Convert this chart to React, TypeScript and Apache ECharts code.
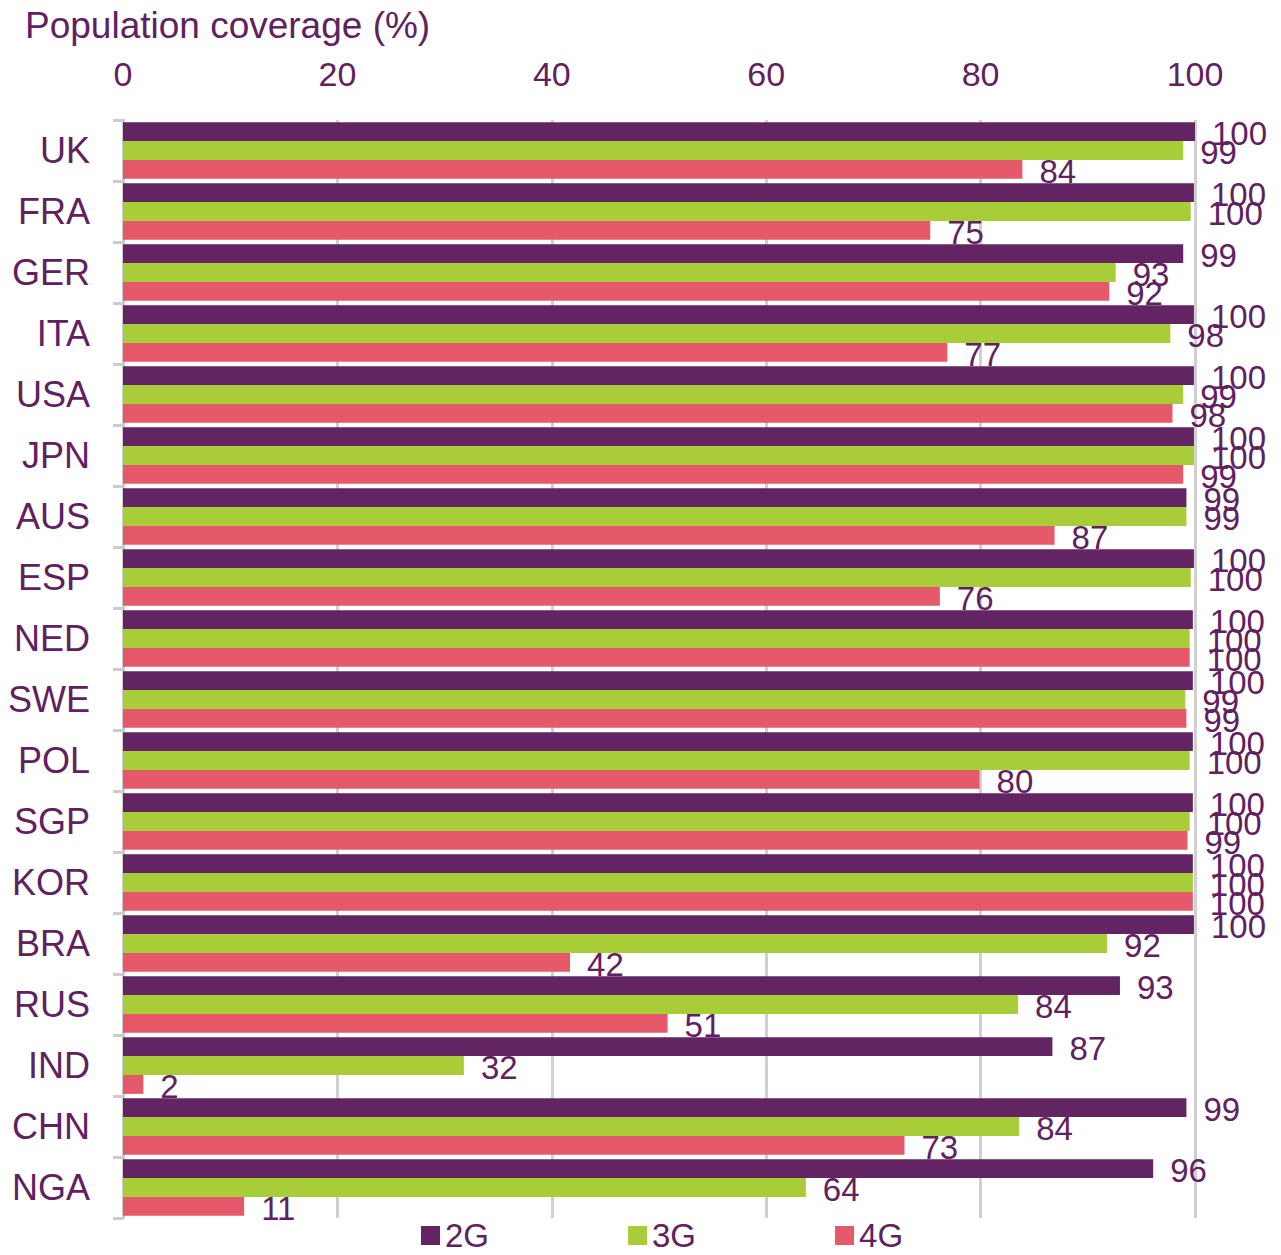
import React, { useEffect, useRef } from "react";
import * as echarts from "echarts";

const categories = ["UK", "FRA", "GER", "ITA", "USA", "JPN", "AUS", "ESP", "NED", "SWE", "POL", "SGP", "KOR", "BRA", "RUS", "IND", "CHN", "NGA"];
const values2G = [100, 99.9, 98.9, 99.9, 99.9, 99.9, 99.2, 99.9, 99.8, 99.8, 99.8, 99.8, 99.8, 99.9, 93.0, 86.7, 99.2, 96.1];
const values3G = [98.9, 99.6, 92.6, 97.7, 98.9, 99.9, 99.2, 99.6, 99.5, 99.1, 99.5, 99.5, 99.8, 91.8, 83.5, 31.8, 83.6, 63.7];
const values4G = [83.9, 75.3, 92.0, 76.9, 97.9, 98.9, 86.9, 76.2, 99.5, 99.2, 79.9, 99.3, 99.8, 41.7, 50.8, 1.9, 72.9, 11.3];
const xTicks = [0, 20, 40, 60, 80, 100];
const seriesNames = ["2G", "3G", "4G"];
const axisTitle = "Population coverage (%)";

const PURPLE = "#622462";
const GREEN = "#a8cd38";
const RED = "#e5596a";
const TEXT = "#5f2160";
const FONT = "'Liberation Sans', Arial, sans-serif";

export default function App() {
  const ref = useRef<HTMLDivElement>(null);
  useEffect(() => {
    if (!ref.current) return;
    const chart = echarts.init(ref.current, undefined, { renderer: "svg" });
    const label = {
      show: true,
      position: "right" as const,
      distance: 17,
      offset: [0, 2],
      color: TEXT,
      fontSize: 33,
      fontFamily: FONT,
      formatter: (p: any) => String(Math.round(p.value)),
    };
    const mk = (name: string, data: number[], color: string) => ({
      name,
      type: "bar",
      data,
      itemStyle: { color },
      barGap: "0%",
      barCategoryGap: "7%",
      label,
    });
    chart.setOption({
      animation: false,
      textStyle: { fontFamily: FONT },
      title: {
        text: axisTitle,
        left: 20,
        top: 2,
        textStyle: { color: TEXT, fontSize: 37, fontWeight: "normal", fontFamily: FONT },
      },
      legend: {
        top: 1219,
        left: 421,
        padding: 0,
        itemWidth: 19,
        itemHeight: 19,
        itemGap: 139,
        icon: "rect",
        textStyle: { color: TEXT, fontSize: 33, lineHeight: 30, fontFamily: FONT },
        data: seriesNames,
      },
      grid: { left: 123, right: 86, top: 120, bottom: 37, containLabel: false },
      xAxis: {
        type: "value",
        position: "top",
        min: xTicks[0],
        max: xTicks[xTicks.length - 1],
        interval: 20,
        axisLine: { show: false },
        axisTick: { show: false },
        axisLabel: { color: TEXT, fontSize: 34, fontFamily: FONT, margin: 29 },
        splitLine: { show: true, lineStyle: { color: "#d0d0d0", width: 3 } },
      },
      yAxis: {
        type: "category",
        inverse: true,
        data: categories,
        axisLine: { show: true, lineStyle: { color: "#cccccc", width: 3 } },
        axisTick: { show: true, length: 10, lineStyle: { color: "#cccccc", width: 3 } },
        axisLabel: { color: TEXT, fontSize: 36, fontFamily: FONT, margin: 33 },
      },
      series: [
        mk(seriesNames[0], values2G, PURPLE),
        mk(seriesNames[1], values3G, GREEN),
        mk(seriesNames[2], values4G, RED),
      ],
    });
    return () => chart.dispose();
  }, []);
  return (
    <div
      ref={ref}
      style={{ position: "fixed", left: 0, top: 0, width: 1281, height: 1255, background: "#fff" }}
    />
  );
}
